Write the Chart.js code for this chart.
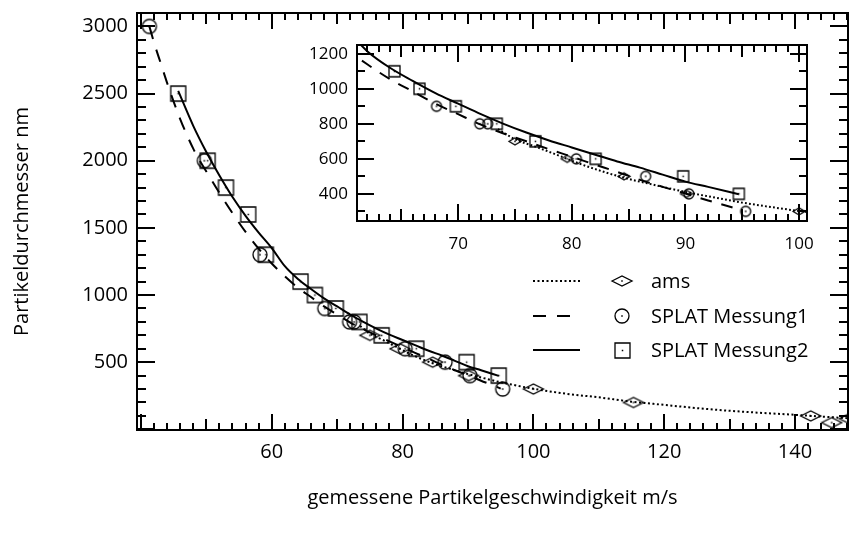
<!DOCTYPE html>
<html>
<head>
<meta charset="utf-8">
<script src="https://cdn.jsdelivr.net/npm/chart.js@4.4.1/dist/chart.umd.min.js"></script>
<style>
  body { margin: 0; background: #fff; }
  #wrap { position: relative; width: 854px; height: 534px; }
  #inset { position: absolute; left: 290px; top: 35px; }
</style>
</head>
<body>
<div id="wrap">
  <canvas id="main" width="854" height="534"></canvas>
  <canvas id="inset" width="530" height="230"></canvas>
</div>
<script>
// measured points
const amsX = [75, 79.6, 84.6, 90.1, 100, 115.3, 142.4, 145.6, 148.3];
const amsY = [700, 600, 500, 400, 300, 200, 100, 50, 80];
const m1X = [41.3, 49.7, 58.2, 68.1, 71.9, 72.6, 80.4, 86.5, 90.3, 95.3];
const m1Y = [3000, 2000, 1300, 900, 800, 800, 600, 500, 400, 300];
const m2X = [45.7, 50.2, 53, 56.4, 59.1, 64.4, 66.6, 69.8, 73.4, 76.8, 82.1, 89.8, 94.7];
const m2Y = [2500, 2000, 1800, 1600, 1300, 1100, 1000, 900, 800, 700, 600, 500, 400];

// fit curves
const amsFitX = [73.5, 75, 77, 79, 81, 83, 85, 87, 89, 91, 93, 95, 97, 100, 105, 110, 115, 120, 125, 130, 135, 140, 145, 148.3];
const amsFitY = [770, 712, 665, 615, 565, 522, 485, 455, 425, 398, 374, 350, 330, 302, 265, 238, 206, 182, 158, 138, 122, 108, 92, 82];
const m1FitX = [41.3, 42, 43, 44, 45, 46, 47, 48, 49, 50, 52, 54, 56, 58, 60, 62, 64, 66, 68, 70, 72, 74, 76, 78, 80, 82, 84, 86, 88, 90, 92, 94, 95];
const m1FitY = [3000, 2880, 2730, 2580, 2440, 2310, 2195, 2090, 2000, 1920, 1760, 1610, 1470, 1345, 1235, 1140, 1055, 985, 915, 855, 795, 745, 700, 655, 612, 568, 525, 480, 440, 402, 362, 325, 303];
const m2FitX = [45.7, 48, 50, 52, 54, 56, 58, 60, 62, 64, 66, 68, 70, 72, 74, 76, 78, 80, 82, 84, 86, 88, 90, 92, 94.7];
const m2FitY = [2520, 2260, 2065, 1890, 1730, 1590, 1465, 1350, 1215, 1120, 1045, 975, 915, 855, 800, 750, 705, 665, 625, 585, 550, 510, 470, 440, 398];

// tick labels
const mainXTicks = [60, 80, 100, 120, 140];
const mainYTicks = [500, 1000, 1500, 2000, 2500, 3000];
const insetXTicks = [70, 80, 90, 100];
const insetYTicks = [400, 600, 800, 1000, 1200];

const labels = ["ams", "SPLAT Messung1", "SPLAT Messung2"];
const FONT = "Open Sans";

const zip = (xs, ys) => xs.map((x, i) => ({ x: x, y: ys[i] }));

// hollow marker with a small dot in the middle
function makeMarker(shape, w, h) {
  const c = document.createElement("canvas");
  c.width = w + 4;
  c.height = h + 4;
  const g = c.getContext("2d");
  const cx = c.width / 2, cy = c.height / 2;
  g.strokeStyle = "#000";
  g.lineWidth = 1.3;
  g.beginPath();
  if (shape === "circle") {
    g.arc(cx, cy, w / 2, 0, Math.PI * 2);
  } else if (shape === "square") {
    g.rect(cx - w / 2, cy - h / 2, w, h);
  } else {
    g.moveTo(cx - w / 2, cy);
    g.lineTo(cx, cy - h / 2);
    g.lineTo(cx + w / 2, cy);
    g.lineTo(cx, cy + h / 2);
    g.closePath();
  }
  g.stroke();
  g.fillStyle = "#000";
  g.fillRect(cx - 0.75, cy - 0.75, 1.5, 1.5);
  return c;
}

const lineStyles = [[2, 2.5], [13, 11], []];

function buildDatasets(markers, dashScale) {
  const fits = [zip(amsFitX, amsFitY), zip(m1FitX, m1FitY), zip(m2FitX, m2FitY)];
  const pts = [zip(amsX, amsY), zip(m1X, m1Y), zip(m2X, m2Y)];
  const ds = [];
  fits.forEach((f, i) => {
    ds.push({
      label: labels[i] + " fit",
      data: f,
      showLine: true,
      borderColor: "#000",
      borderWidth: 2,
      borderDash: lineStyles[i].map(v => v * dashScale),
      pointRadius: 0,
      cubicInterpolationMode: "monotone",
      fill: false,
    });
  });
  pts.forEach((p, i) => {
    ds.push({
      label: labels[i],
      data: p,
      showLine: false,
      pointStyle: markers[i],
      pointRadius: 5,
      borderColor: "#000",
    });
  });
  return ds;
}

// inward ticks on all four sides plus the frame
const innerTicks = {
  id: "innerTicks",
  afterDraw(chart, args, opts) {
    const { ctx, chartArea: a, scales } = chart;
    const lenFor = (v, t) => {
      const on = step => step && Math.abs(v / step - Math.round(v / step)) < 1e-6;
      if (on(t.major)) return t.len[2];
      if (on(t.mid)) return t.len[1];
      return t.len[0];
    };
    ctx.save();
    ctx.strokeStyle = "#000";
    ctx.lineWidth = opts.width;
    ctx.beginPath();
    const xt = opts.x, yt = opts.y;
    const xs = scales.x, ys = scales.y;
    for (let k = Math.ceil(xs.min / xt.minor); k * xt.minor <= xs.max; k++) {
      const v = k * xt.minor, px = Math.round(xs.getPixelForValue(v)), l = lenFor(v, xt);
      ctx.moveTo(px, a.bottom); ctx.lineTo(px, a.bottom - l);
      ctx.moveTo(px, a.top); ctx.lineTo(px, a.top + l);
    }
    for (let k = Math.ceil(ys.min / yt.minor); k * yt.minor <= ys.max; k++) {
      const v = k * yt.minor, py = Math.round(ys.getPixelForValue(v)), l = lenFor(v, yt);
      ctx.moveTo(a.left, py); ctx.lineTo(a.left + l, py);
      ctx.moveTo(a.right, py); ctx.lineTo(a.right - l, py);
    }
    ctx.stroke();
    ctx.lineWidth = opts.frame;
    ctx.strokeRect(a.left, a.top, a.right - a.left, a.bottom - a.top);
    ctx.restore();
  },
};

// legend: line sample, marker, text
const fitLegend = {
  id: "fitLegend",
  afterDraw(chart, args, opts) {
    if (!opts.rows) return;
    const ctx = chart.ctx;
    ctx.save();
    opts.rows.forEach((y, i) => {
      const fit = chart.data.datasets[i];
      const pts = chart.data.datasets[i + 3];
      ctx.strokeStyle = "#000";
      ctx.lineWidth = 2;
      ctx.setLineDash(fit.borderDash);
      ctx.beginPath();
      ctx.moveTo(opts.x0, y);
      ctx.lineTo(opts.x1, y);
      ctx.stroke();
      ctx.setLineDash([]);
      const m = pts.pointStyle;
      ctx.drawImage(m, Math.round(opts.xm - m.width / 2), Math.round(y - m.height / 2));
      ctx.fillStyle = "#000";
      ctx.font = opts.font;
      ctx.textBaseline = "middle";
      ctx.fillText(pts.label, opts.xt, y + 1);
    });
    ctx.restore();
  },
};

function axis(min, max, ticks, fontSize, pad, size, horizontal, title) {
  const s = {
    type: "linear",
    min: min,
    max: max,
    grid: { display: false, drawTicks: false },
    border: { display: false },
    ticks: {
      color: "#000",
      font: { family: FONT, size: fontSize },
      padding: pad,
      maxRotation: 0,
      autoSkip: false,
      callback: v => String(v),
    },
    afterBuildTicks: sc => { sc.ticks = ticks.map(v => ({ value: v })); },
    afterFit: sc => {
      if (horizontal) sc.height = size; else sc.width = size;
      // no extra room for overhanging labels, the frame is placed by layout padding
      sc.paddingTop = 0;
      sc.paddingBottom = 0;
      sc.paddingLeft = 0;
      sc.paddingRight = 0;
    },
  };
  if (title) s.title = title;
  return s;
}

const mainMarkers = [makeMarker("diamond", 20, 10), makeMarker("circle", 14, 14), makeMarker("square", 15, 15)];
const insetMarkers = [makeMarker("diamond", 12, 7), makeMarker("circle", 10, 10), makeMarker("square", 11, 11)];

new Chart(document.getElementById("main"), {
  type: "scatter",
  data: { datasets: buildDatasets(mainMarkers, 1) },
  options: {
    responsive: false,
    animation: false,
    devicePixelRatio: 1,
    layout: { padding: { left: 0, top: 13, right: 6, bottom: 0 } },
    scales: {
      x: axis(39.4, 148.1, mainXTicks, 20, 10, 104, true, {
        display: true, text: "gemessene Partikelgeschwindigkeit m/s", color: "#000",
        font: { family: FONT, size: 20 }, padding: { top: 0, bottom: 24 },
      }),
      y: axis(-5, 3100, mainYTicks, 20, 9, 137, false, {
        display: true, text: "Partikeldurchmesser nm", color: "#000",
        font: { family: FONT, size: 20 }, padding: { top: 10, bottom: 0 },
      }),
    },
    plugins: {
      legend: { display: false },
      tooltip: { enabled: false },
      innerTicks: {
        width: 2, frame: 2,
        x: { minor: 2, mid: 10, major: 20, len: [7, 11, 16] },
        y: { minor: 100, mid: 0, major: 500, len: [9, 9, 18] },
      },
      fitLegend: { rows: [281, 316, 350], x0: 533, x1: 580, xm: 622, xt: 651, font: "20px " + FONT },
    },
  },
  plugins: [innerTicks, fitLegend],
});

new Chart(document.getElementById("inset"), {
  type: "scatter",
  data: { datasets: buildDatasets(insetMarkers, 0.9) },
  options: {
    responsive: false,
    animation: false,
    devicePixelRatio: 1,
    layout: { padding: { left: 0, top: 10, right: 13, bottom: 0 } },
    scales: {
      x: axis(61.1, 100.7, insetXTicks, 17, 13, 44, true),
      y: axis(245, 1250, insetYTicks, 17, 9, 67, false),
    },
    plugins: {
      legend: { display: false },
      tooltip: { enabled: false },
      innerTicks: {
        width: 2, frame: 2,
        x: { minor: 1, mid: 5, major: 10, len: [7, 12, 17] },
        y: { minor: 100, mid: 0, major: 200, len: [8, 8, 17] },
      },
    },
  },
  plugins: [innerTicks],
});
</script>
</body>
</html>
